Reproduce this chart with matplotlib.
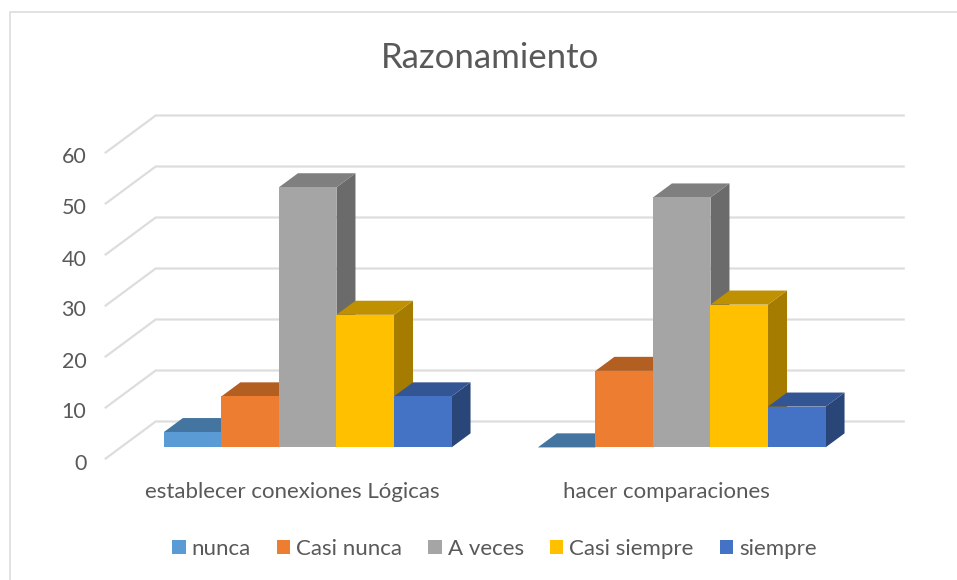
import matplotlib
matplotlib.use('Agg')
import matplotlib.pyplot as plt
from matplotlib.lines import Line2D
from matplotlib.patches import Polygon, Patch
from matplotlib.transforms import ScaledTranslation

plt.rcParams['font.family'] = ['Lato', 'DejaVu Sans']

# Data
categories = ['establecer conexiones Lógicas', 'hacer comparaciones']
series = ['nunca', 'Casi nunca', 'A veces', 'Casi siempre', 'siempre']
nunca = [3, 0]
casi_nunca = [10, 15]
a_veces = [51, 49]
casi_siempre = [26, 28]
siempre = [10, 8]
values = [nunca, casi_nunca, a_veces, casi_siempre, siempre]
yticks = [0, 10, 20, 30, 40, 50, 60]

front = ['#5B9BD5', '#ED7D31', '#A5A5A5', '#FFC000', '#4472C4']
top = ['#4475A0', '#B45F22', '#7F7F7F', '#BF9000', '#335593']
side = ['#34597A', '#8E4B1C', '#6B6B6B', '#A67C00', '#2A4679']
grid = '#DDDDDD'
text = '#595959'

W, H = 957, 580
fig = plt.figure(figsize=(W / 100, H / 100), dpi=100)

# the axes is the front edge of the floor, depth gets added by hand
ax = fig.add_axes([105.7 / W, 1 - 458.5 / H, 748 / W, 306 / H])
ax.patch.set_alpha(0)
ax.set_xlim(-0.5, 1.5)
ax.set_ylim(0, 60)
for s in ax.spines.values():
    s.set_visible(False)

# 3d look: how far x and y move going from the front to the back of the floor
dx = 50 / 374
dy = 37 / 5.1


def shift(x, y, d):
    return (x + dx * d, y + dy * d)


# walls
for v in yticks:
    a = shift(-0.5, v, 0)
    b = shift(-0.5, v, 1)
    c = shift(1.5, v, 1)
    ax.plot([a[0], b[0], c[0]], [a[1], b[1], c[1]], color=grid, lw=1.6, clip_on=False, zorder=1,
            solid_joinstyle='miter')

# bars
bar_w = 1 / 6.5
d0, d1 = 0.3, 0.68
z = 2
for c in range(len(categories)):
    for i in range(len(series)):
        v = values[i][c]
        x0 = c - 2.5 * bar_w + i * bar_w
        x1 = x0 + bar_w
        if v > 0:
            ax.add_patch(Polygon([shift(x1, 0, d0), shift(x1, 0, d1), shift(x1, v, d1), shift(x1, v, d0)],
                                 fc=side[i], ec='none', zorder=z, clip_on=False))
        ax.add_patch(Polygon([shift(x0, v, d0), shift(x1, v, d0), shift(x1, v, d1), shift(x0, v, d1)],
                             fc=top[i], ec='none', zorder=z, clip_on=False))
        if v > 0:
            ax.add_patch(Polygon([shift(x0, 0, d0), shift(x1, 0, d0), shift(x1, v, d0), shift(x0, v, d0)],
                                 fc=front[i], ec='none', zorder=z, clip_on=False))
        z += 1

ax.set_xticks([0, 1])
ax.set_xticklabels(categories, fontsize=16, color=text)
ax.set_yticks(yticks)
ax.set_yticklabels([str(v) for v in yticks], fontsize=15.5, color=text)
ax.tick_params(length=0)
ax.tick_params(axis='x', pad=17)
ax.tick_params(axis='y', pad=14)
# y labels sit a bit under their gridline ends
for lab in ax.get_yticklabels():
    lab.set_transform(lab.get_transform() + ScaledTranslation(0, -3 / 100, fig.dpi_scale_trans))

fig.text(490 / W, 1 - 58 / H, 'Razonamiento', ha='center', va='center', fontsize=25, color=text)

handles = [Patch(fc=front[i], ec='none', label=series[i]) for i in range(len(series))]
fig.legend(handles=handles, loc='center', bbox_to_anchor=(494.5 / W, 1 - 549 / H), ncol=5, frameon=False,
           fontsize=16, labelcolor=text, handlelength=0.6, handleheight=0.6, handletextpad=0.27,
           columnspacing=1.17, borderpad=0, borderaxespad=0)

# chart frame, only top and left show up in the picture
fig.add_artist(Line2D([9.5 / W, 9.5 / W, 1], [0, 1 - 11.5 / H, 1 - 11.5 / H], color='#DDDDDD', lw=1.2))

fig.savefig('out.png', dpi=100)
